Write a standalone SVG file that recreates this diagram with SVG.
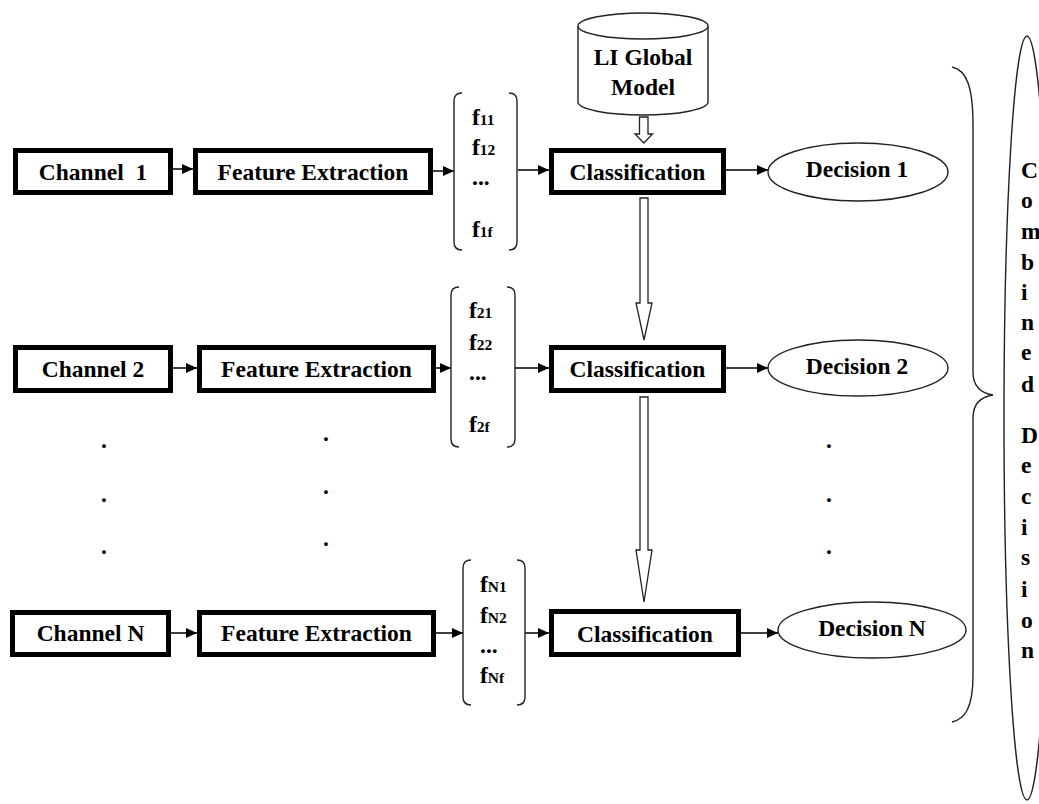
<svg xmlns="http://www.w3.org/2000/svg" width="1039" height="804" viewBox="0 0 1039 804">
<style>
.box{fill:#fff;stroke:#000;stroke-width:5}
.t{font-family:"Liberation Serif","Times New Roman",serif;font-weight:bold;font-size:23.5px;fill:#000}
.c{text-anchor:middle}
.sub{font-size:15.5px}
.thin{fill:none;stroke:#222;stroke-width:1.4}
.ell{fill:#fff;stroke:#222;stroke-width:1.4}
.hol{fill:#fff;stroke:#222;stroke-width:1.3}
.ln{stroke:#000;stroke-width:1.5;fill:none}
</style>
<defs>
<marker id="ah" markerUnits="userSpaceOnUse" markerWidth="12" markerHeight="12" refX="11" refY="5" orient="auto">
<path d="M0,0 L11,5 L0,10 Z" fill="#000"/>
</marker>
</defs>
<rect width="1039" height="804" fill="#fff"/>

<g id="connectors">
<line class="ln" x1="173" y1="169" x2="193" y2="169" marker-end="url(#ah)"/>
<line class="ln" x1="433" y1="171" x2="454" y2="171" marker-end="url(#ah)"/>
<line class="ln" x1="518" y1="170" x2="549" y2="170" marker-end="url(#ah)"/>
<line class="ln" x1="726" y1="170" x2="768" y2="170" marker-end="url(#ah)"/>
<line class="ln" x1="173" y1="368" x2="197" y2="368" marker-end="url(#ah)"/>
<line class="ln" x1="436" y1="368" x2="451" y2="368" marker-end="url(#ah)"/>
<line class="ln" x1="515" y1="368" x2="549" y2="368" marker-end="url(#ah)"/>
<line class="ln" x1="726" y1="368" x2="768" y2="368" marker-end="url(#ah)"/>
<line class="ln" x1="171" y1="633" x2="197" y2="633" marker-end="url(#ah)"/>
<line class="ln" x1="436" y1="633" x2="463" y2="633" marker-end="url(#ah)"/>
<line class="ln" x1="525" y1="633" x2="549" y2="633" marker-end="url(#ah)"/>
<line class="ln" x1="741" y1="633" x2="778" y2="633" marker-end="url(#ah)"/>
<polygon class="hol" points="639.5,117 648,117 648,134 652.5,134 643.8,143 635,134 639.5,134"/>
<polygon class="hol" points="640,198 648,198 648,303 652,303 644,340 636,303 640,303"/>
<polygon class="hol" points="640,397 648,397 648,550 652,550 644,602 636,550 640,550"/>
</g>

<g id="model">
<path class="ell" d="M578,26 L578,102 A65,13 0 0 0 708,102 L708,26"/>
<ellipse class="ell" cx="643" cy="26" rx="65" ry="13"/>
<text class="t c" x="643" y="65">LI Global</text>
<text class="t c" x="643" y="95">Model</text>
</g>

<g id="channel1"><rect class="box" x="15.5" y="150.5" width="155" height="42"/><text class="t c" x="93" y="180" style="white-space:pre">Channel  1</text></g>
<g id="fe1"><rect class="box" x="195.5" y="150.5" width="235" height="42"/><text class="t c" x="313" y="180">Feature Extraction</text></g>
<g id="feat1">
<path class="thin" d="M462,93 Q454,93 454,101 L454,242 Q454,250 462,250 M509,93 Q517,93 517,101 L517,242 Q517,250 509,250"/>
<text class="t" x="472" y="125">f<tspan class="sub">11</tspan></text>
<text class="t" x="472" y="155">f<tspan class="sub">12</tspan></text>
<text class="t" x="472" y="185">...</text>
<text class="t" x="472" y="237">f<tspan class="sub">1f</tspan></text>
</g>
<g id="class1"><rect class="box" x="551.5" y="150.5" width="172" height="42"/><text class="t c" x="637.5" y="180">Classification</text></g>
<g id="dec1"><ellipse class="ell" cx="858" cy="172" rx="90" ry="29"/><text class="t c" x="857" y="177">Decision 1</text></g>

<g id="channel2"><rect class="box" x="15.5" y="347.5" width="155" height="43"/><text class="t c" x="93" y="377">Channel 2</text></g>
<g id="fe2"><rect class="box" x="199.5" y="347.5" width="234" height="43"/><text class="t c" x="316.5" y="377">Feature Extraction</text></g>
<g id="feat2">
<path class="thin" d="M459,287 Q451,287 451,295 L451,439 Q451,447 459,447 M507,287 Q515,287 515,295 L515,439 Q515,447 507,447"/>
<text class="t" x="469" y="318">f<tspan class="sub">21</tspan></text>
<text class="t" x="469" y="350">f<tspan class="sub">22</tspan></text>
<text class="t" x="469" y="380">...</text>
<text class="t" x="469" y="432">f<tspan class="sub">2f</tspan></text>
</g>
<g id="class2"><rect class="box" x="551.5" y="347.5" width="172" height="43"/><text class="t c" x="637.5" y="377">Classification</text></g>
<g id="dec2"><ellipse class="ell" cx="858" cy="368" rx="90" ry="28"/><text class="t c" x="857" y="374">Decision 2</text></g>

<g id="dots">
<text class="t c" x="104" y="448">.</text><text class="t c" x="104" y="502">.</text><text class="t c" x="104" y="554">.</text>
<text class="t c" x="326" y="441">.</text><text class="t c" x="326" y="494">.</text><text class="t c" x="326" y="546">.</text>
<text class="t c" x="829" y="448">.</text><text class="t c" x="829" y="502">.</text><text class="t c" x="829" y="554">.</text>
</g>

<g id="channelN"><rect class="box" x="12.5" y="612.5" width="156" height="42"/><text class="t c" x="90.5" y="641">Channel N</text></g>
<g id="feN"><rect class="box" x="199.5" y="612.5" width="234" height="42"/><text class="t c" x="316.5" y="641">Feature Extraction</text></g>
<g id="featN">
<path class="thin" d="M471,560 Q463,560 463,568 L463,697 Q463,705 471,705 M517,560 Q525,560 525,568 L525,697 Q525,705 517,705"/>
<text class="t" x="480" y="592">f<tspan class="sub">N1</tspan></text>
<text class="t" x="480" y="623">f<tspan class="sub">N2</tspan></text>
<text class="t" x="480" y="653">...</text>
<text class="t" x="480" y="683">f<tspan class="sub">Nf</tspan></text>
</g>
<g id="classN"><rect class="box" x="551.5" y="611.5" width="187" height="43"/><text class="t c" x="645" y="642">Classification</text></g>
<g id="decN"><ellipse class="ell" cx="872" cy="630" rx="94" ry="28"/><text class="t c" x="872" y="636">Decision N</text></g>

<g id="brace">
<path class="thin" d="M952,67 C967,70 973,88 973,125 L973,372 C973,386 980,393 993,395 C980,397 973,404 973,418 L973,675 C973,708 965,719 952,722"/>
</g>

<g id="combined">
<ellipse class="ell" cx="1027" cy="418" rx="23" ry="382"/>
<text class="t" x="1021" y="178">C</text>
<text class="t" x="1021" y="208">o</text>
<text class="t" x="1021" y="239">m</text>
<text class="t" x="1021" y="270">b</text>
<text class="t" x="1021" y="300">i</text>
<text class="t" x="1021" y="330">n</text>
<text class="t" x="1021" y="360">e</text>
<text class="t" x="1021" y="392">d</text>
<text class="t" x="1021" y="443">D</text>
<text class="t" x="1021" y="473">e</text>
<text class="t" x="1021" y="504">c</text>
<text class="t" x="1021" y="535">i</text>
<text class="t" x="1021" y="565">s</text>
<text class="t" x="1021" y="597">i</text>
<text class="t" x="1021" y="628">o</text>
<text class="t" x="1021" y="658">n</text>
</g>
</svg>
